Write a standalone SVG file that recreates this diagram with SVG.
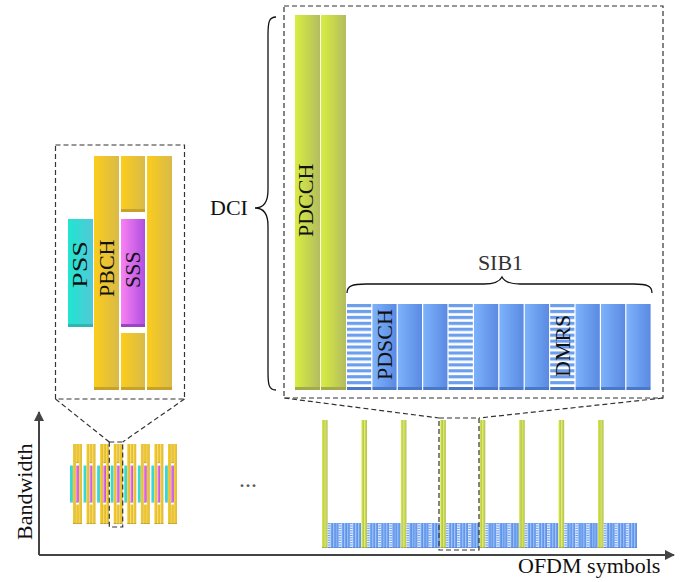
<svg xmlns="http://www.w3.org/2000/svg" xmlns:xlink="http://www.w3.org/1999/xlink" width="694" height="582" viewBox="0 0 694 582">
  <style>
    .lbl { font-family: "Liberation Serif", "Times New Roman", serif; font-size: 22px; fill: #111; }
    .dash { fill: none; stroke: #333; stroke-width: 1.2; stroke-dasharray: 5 3; }
    .brace { fill: none; stroke: #111; stroke-width: 1.3; }
    .axis { fill: none; stroke: #444; stroke-width: 2; }
    .gold { fill: url(#gGold); }
    .gold-s { fill: #C6A12C; }
    .cyan { fill: url(#gCyan); }
    .cyan-s { fill: #2FB5B2; }
    .mag { fill: url(#gMag); }
    .mag-s { fill: #9C45C4; }
    .green { fill: url(#gGreen); }
    .green-s { fill: #A3AA4A; }
    .blue { fill: url(#gBlue); }
    .stripe { fill: url(#stripes); }
    .blue-s { fill: #4A78C8; }
  </style>
  <defs>
    <linearGradient id="gGold"><stop offset="0" stop-color="#FBCD1C"/><stop offset="1" stop-color="#D9BA48"/></linearGradient>
    <linearGradient id="gCyan"><stop offset="0" stop-color="#1FE6D0"/><stop offset="1" stop-color="#52C8D8"/></linearGradient>
    <linearGradient id="gMag"><stop offset="0" stop-color="#F982F2"/><stop offset="1" stop-color="#B04FE0"/></linearGradient>
    <linearGradient id="gGreen"><stop offset="0" stop-color="#D8EE40"/><stop offset="1" stop-color="#B4BC60"/></linearGradient>
    <linearGradient id="gBlue"><stop offset="0" stop-color="#7EB2FB"/><stop offset="1" stop-color="#5A8AE2"/></linearGradient>
    <pattern id="stripes" patternUnits="userSpaceOnUse" x="0" y="304" width="700" height="5.93">
      <rect width="700" height="5.93" fill="#FFFFFF"/>
      <rect width="700" height="3.2" fill="#6C9EEE"/>
    </pattern>
    <marker id="arrow" viewBox="0 0 10 10" refX="9" refY="5" markerWidth="5" markerHeight="5" orient="auto" markerUnits="strokeWidth">
      <path d="M0,0 L10,5 L0,10 z" fill="#444"/>
    </marker>

    <!-- SS/PBCH block: PSS, PBCH, SSS, PBCH columns with bevelled bottoms -->
    <g id="ssb-shape">
      <rect class="cyan" x="68" y="219" width="25" height="105"/>
      <rect class="cyan-s" x="68" y="324" width="25" height="3"/>
      <rect class="gold" x="94" y="156" width="25" height="231"/>
      <rect class="gold-s" x="94" y="387" width="25" height="3"/>
      <rect class="gold" x="121" y="156" width="24" height="53"/>
      <rect class="gold-s" x="121" y="209" width="24" height="3"/>
      <rect class="mag" x="121" y="219" width="24" height="105"/>
      <rect class="mag-s" x="121" y="324" width="24" height="3"/>
      <rect class="gold" x="121" y="333" width="24" height="54"/>
      <rect class="gold-s" x="121" y="387" width="24" height="3"/>
      <rect class="gold" x="147" y="156" width="25" height="231"/>
      <rect class="gold-s" x="147" y="387" width="25" height="3"/>
    </g>

    <!-- two PDCCH symbols -->
    <g id="pdcch-shape">
      <rect class="green" x="295" y="15" width="25" height="372"/>
      <rect class="green-s" x="295" y="387" width="25" height="3"/>
      <rect class="green" x="321" y="15" width="25" height="372"/>
      <rect class="green-s" x="321" y="387" width="25" height="3"/>
    </g>

    <!-- twelve PDSCH symbols, DMRS ones striped -->
    <g id="pdsch-shape">
      <rect class="stripe" x="347" y="304" width="24.2" height="83"/>
      <rect class="blue" x="372.4" y="304" width="24.2" height="83"/>
      <rect class="blue" x="397.8" y="304" width="24.2" height="83"/>
      <rect class="blue" x="423.2" y="304" width="24.2" height="83"/>
      <rect class="stripe" x="448.6" y="304" width="24.2" height="83"/>
      <rect class="blue" x="474" y="304" width="24.2" height="83"/>
      <rect class="blue" x="499.4" y="304" width="24.2" height="83"/>
      <rect class="blue" x="524.8" y="304" width="24.2" height="83"/>
      <rect class="stripe" x="550.2" y="304" width="24.2" height="83"/>
      <rect class="blue" x="575.6" y="304" width="24.2" height="83"/>
      <rect class="blue" x="601" y="304" width="24.2" height="83"/>
      <rect class="blue" x="626.4" y="304" width="24.2" height="83"/>
      <rect class="blue-s" x="347" y="387" width="24.2" height="3"/>
      <rect class="blue-s" x="372.4" y="387" width="24.2" height="3"/>
      <rect class="blue-s" x="397.8" y="387" width="24.2" height="3"/>
      <rect class="blue-s" x="423.2" y="387" width="24.2" height="3"/>
      <rect class="blue-s" x="448.6" y="387" width="24.2" height="3"/>
      <rect class="blue-s" x="474" y="387" width="24.2" height="3"/>
      <rect class="blue-s" x="499.4" y="387" width="24.2" height="3"/>
      <rect class="blue-s" x="524.8" y="387" width="24.2" height="3"/>
      <rect class="blue-s" x="550.2" y="387" width="24.2" height="3"/>
      <rect class="blue-s" x="575.6" y="387" width="24.2" height="3"/>
      <rect class="blue-s" x="601" y="387" width="24.2" height="3"/>
      <rect class="blue-s" x="626.4" y="387" width="24.2" height="3"/>
    </g>
  </defs>

  <rect width="694" height="582" fill="#FFFFFF"/>

  <!-- enlarged SS/PBCH block -->
  <g id="ssb-detail">
    <rect class="dash" x="55.5" y="145" width="129" height="254"/>
    <use href="#ssb-shape"/>
    <text class="lbl" transform="translate(87,288) rotate(-90)" textLength="47" lengthAdjust="spacingAndGlyphs">PSS</text>
    <text class="lbl" transform="translate(114,297) rotate(-90)">PBCH</text>
    <text class="lbl" transform="translate(140,288) rotate(-90)">SSS</text>
  </g>

  <!-- enlarged CORESET + SIB1 slot -->
  <g id="slot-detail">
    <rect class="dash" x="284" y="6" width="379" height="392"/>
  </g>

  <g id="pdcch">
    <use href="#pdcch-shape"/>
    <text class="lbl" transform="translate(313,237) rotate(-90)">PDCCH</text>
  </g>

  <g id="sib1-pdsch">
    <use href="#pdsch-shape"/>
    <text class="lbl" transform="translate(392,380) rotate(-90)">PDSCH</text>
    <text class="lbl" transform="translate(570,377) rotate(-90)">DMRS</text>
  </g>

  <g id="dci-brace">
    <path class="brace" d="M276,17 C269,17 268,22 268,35 L268,190 C268,203 263,208 255,208 C263,208 268,213 268,226 L268,372 C268,385 269,390 276,390"/>
    <text class="lbl" x="210" y="215">DCI</text>
  </g>

  <g id="sib1-brace">
    <path class="brace" d="M347,293 C347,286 352,284 366,284 L484,284 C495,284 500,281 502,277 C504,281 509,284 520,284 L634,284 C647,284 652,286 652,293"/>
    <text class="lbl" x="500.5" y="270" text-anchor="middle" style="fill:#333">SIB1</text>
  </g>

  <!-- burst of SS/PBCH blocks -->
  <g id="ssb-burst">
    <use href="#ssb-shape" transform="translate(62.15,390.67) scale(0.1154,0.3419)"/>
    <use href="#ssb-shape" transform="translate(75.72,390.67) scale(0.1154,0.3419)"/>
    <use href="#ssb-shape" transform="translate(89.29,390.67) scale(0.1154,0.3419)"/>
    <use href="#ssb-shape" transform="translate(102.86,390.67) scale(0.1154,0.3419)"/>
    <use href="#ssb-shape" transform="translate(116.43,390.67) scale(0.1154,0.3419)"/>
    <use href="#ssb-shape" transform="translate(130.00,390.67) scale(0.1154,0.3419)"/>
    <use href="#ssb-shape" transform="translate(143.57,390.67) scale(0.1154,0.3419)"/>
    <use href="#ssb-shape" transform="translate(157.14,390.67) scale(0.1154,0.3419)"/>
    <rect class="dash" x="109.3" y="442" width="13.4" height="85"/>
  </g>

  <g id="ellipsis">
    <text x="239" y="487" style="font-family:'Liberation Serif',serif;font-size:24px;fill:#555">...</text>
  </g>

  <!-- burst of PDCCH + SIB1 slots -->
  <g id="sib1-burst">
    <use href="#pdcch-shape" transform="translate(289.67,414.88) scale(0.1096,0.3413)"/>
    <use href="#pdcch-shape" transform="translate(329.10,414.88) scale(0.1096,0.3413)"/>
    <use href="#pdcch-shape" transform="translate(368.53,414.88) scale(0.1096,0.3413)"/>
    <use href="#pdcch-shape" transform="translate(407.96,414.88) scale(0.1096,0.3413)"/>
    <use href="#pdcch-shape" transform="translate(447.39,414.88) scale(0.1096,0.3413)"/>
    <use href="#pdcch-shape" transform="translate(486.82,414.88) scale(0.1096,0.3413)"/>
    <use href="#pdcch-shape" transform="translate(526.25,414.88) scale(0.1096,0.3413)"/>
    <use href="#pdcch-shape" transform="translate(565.68,414.88) scale(0.1096,0.3413)"/>
    <use href="#pdsch-shape" transform="translate(289.67,434.63) scale(0.1096,0.2907)"/>
    <use href="#pdsch-shape" transform="translate(329.10,434.63) scale(0.1096,0.2907)"/>
    <use href="#pdsch-shape" transform="translate(368.53,434.63) scale(0.1096,0.2907)"/>
    <use href="#pdsch-shape" transform="translate(407.96,434.63) scale(0.1096,0.2907)"/>
    <use href="#pdsch-shape" transform="translate(447.39,434.63) scale(0.1096,0.2907)"/>
    <use href="#pdsch-shape" transform="translate(486.82,434.63) scale(0.1096,0.2907)"/>
    <use href="#pdsch-shape" transform="translate(526.25,434.63) scale(0.1096,0.2907)"/>
    <use href="#pdsch-shape" transform="translate(565.68,434.63) scale(0.1096,0.2907)"/>
    <rect class="dash" x="439" y="418" width="40" height="132"/>
  </g>

  <g id="axes">
    <path class="axis" d="M39,555 L39,412" marker-end="url(#arrow)"/>
    <path class="axis" d="M39,555 L674,555" marker-end="url(#arrow)"/>
    <text class="lbl" transform="translate(32,540) rotate(-90)">Bandwidth</text>
    <text class="lbl" x="518" y="573">OFDM symbols</text>
  </g>

  <!-- zoom connectors -->
  <g id="connectors">
    <line class="dash" x1="55.5" y1="399" x2="109.3" y2="442"/>
    <line class="dash" x1="184.5" y1="399" x2="122.7" y2="442"/>
    <line class="dash" x1="284" y1="398" x2="439" y2="418"/>
    <line class="dash" x1="663" y1="398" x2="479" y2="418"/>
  </g>
</svg>
